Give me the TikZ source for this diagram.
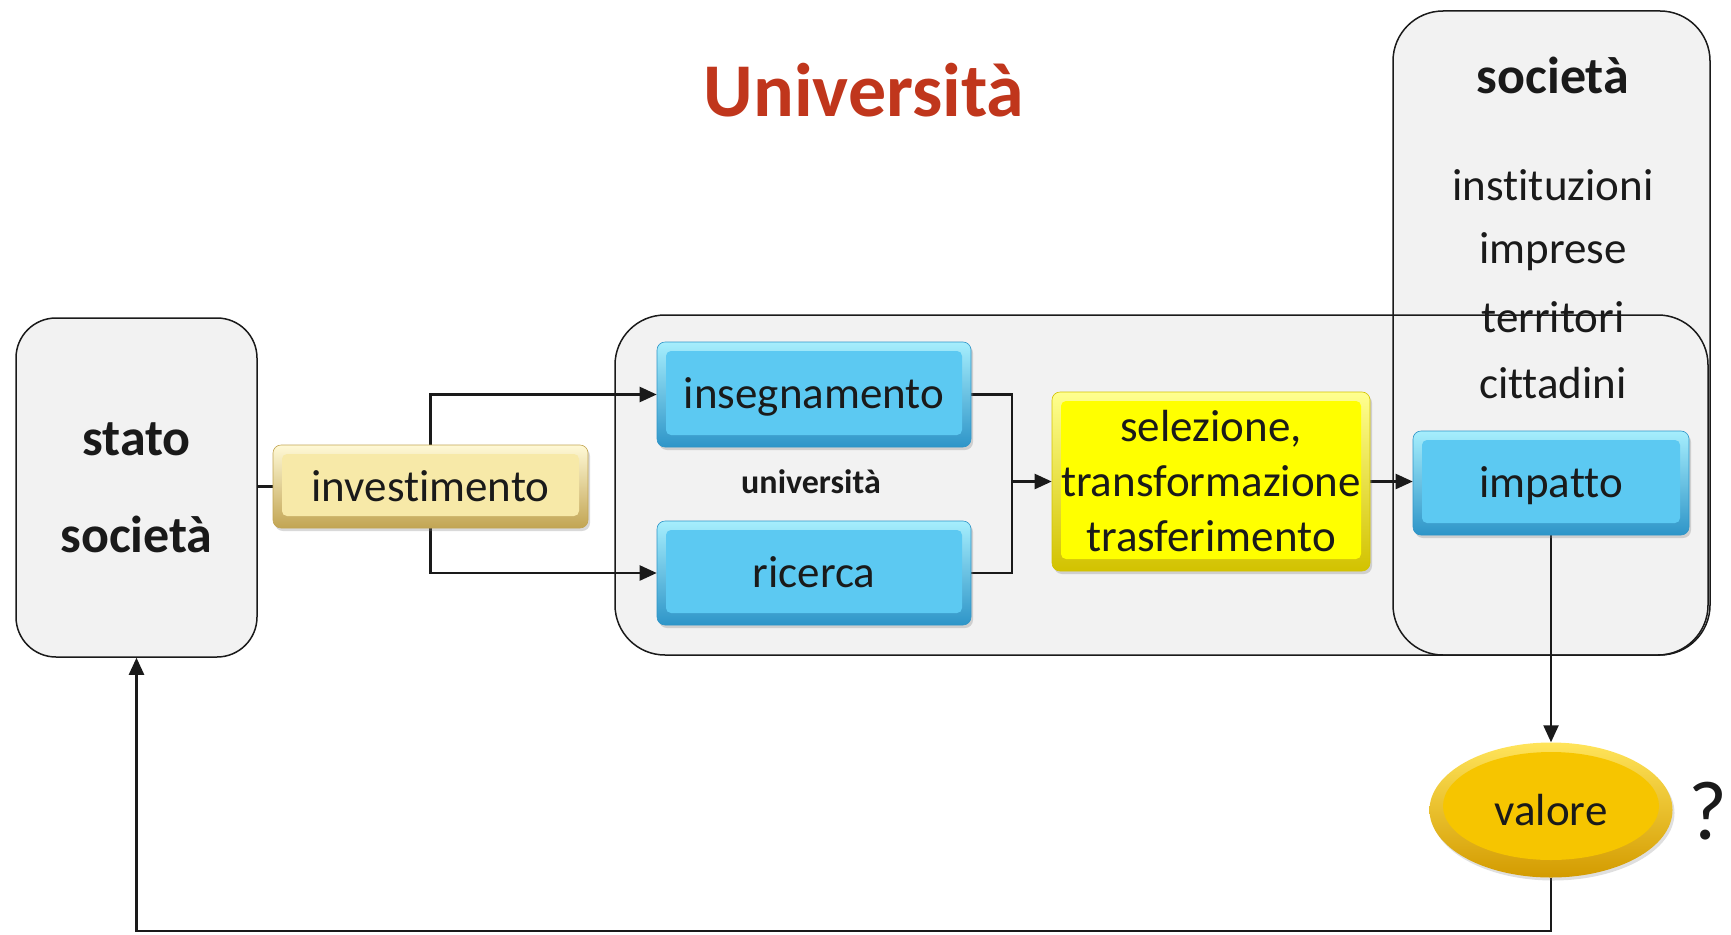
\documentclass[tikz,border=0pt]{standalone}
\usepackage{fontspec}
\setmainfont[Ligatures=NoCommon]{Carlito}
\usetikzlibrary{arrows.meta,shadows,shapes.geometric}
\definecolor{boxgray}{HTML}{F2F2F2}
\definecolor{titlered}{HTML}{C0361C}
\definecolor{bluetop}{HTML}{A6EEFD}
\definecolor{bluebot}{HTML}{2E95C8}
\definecolor{bluemid}{HTML}{5CC9F2}
\definecolor{creamtop}{HTML}{FFF9D6}
\definecolor{creambot}{HTML}{C2A553}
\definecolor{creammid}{HTML}{F7E9A8}
\definecolor{yeltop}{HTML}{FFFF90}
\definecolor{yelbot}{HTML}{D2C200}
\definecolor{yelmid}{HTML}{FFFF00}
\definecolor{goldtop}{HTML}{FFE45A}
\definecolor{goldbot}{HTML}{D39B00}
\definecolor{goldmid}{HTML}{F6C500}
\definecolor{ink}{HTML}{1A1A1A}
\pgfdeclarelayer{back}
\pgfdeclarelayer{conn}
\pgfsetlayers{back,conn,main}
\tikzset{
  txt/.style={font=\fontsize{45}{55}\selectfont, text=ink},
  bevelbox/.style n args={3}{rectangle, rounded corners=8pt, top color=#1, bottom color=#2,
    draw=#2, line width=0.6pt,
    drop shadow={shadow xshift=2pt, shadow yshift=-3pt, opacity=0.3},
    path picture={\fill[#3, rounded corners=5pt]
      ([shift={(9pt,12pt)}]path picture bounding box.south west) rectangle
      ([shift={(-9pt,-9pt)}]path picture bounding box.north east);},
    txt, inner sep=0pt, align=center},
  bluebox/.style={bevelbox={bluetop}{bluebot}{bluemid}, text height=38pt, text depth=10pt},
  creambox/.style={bevelbox={creamtop}{creambot}{creammid}},
  yelbox/.style={bevelbox={yeltop}{yelbot}{yelmid}},
  goldell/.style={ellipse, top color=goldtop, bottom color=goldbot,
    drop shadow={shadow xshift=2pt, shadow yshift=-3pt, opacity=0.25},
    path picture={\fill[goldmid] ([shift={(0pt,4pt)}]path picture bounding box.center) ellipse (108pt and 54pt);},
    txt, inner sep=0pt},
  bigbox/.style={rectangle, rounded corners=50pt, fill=boxgray, outer sep=0pt, inner sep=0pt},
  outline/.style={draw=ink, line width=1.5pt},
  conn/.style={line width=2.3pt, ink},
  arr/.style={conn, -{Triangle[length=17pt,width=15pt]}},
}
\begin{document}
\begin{tikzpicture}[x=1pt,y=-1pt]
\useasboundingbox (0,0) rectangle (1731,934);
% title
\node[font=\fontsize{76}{80}\selectfont\bfseries, text=titlered] (title) at (864,90) {Università};
% big containers
\begin{pgfonlayer}{back}
\node[bigbox, minimum width=1093pt, minimum height=340pt] (univ) at (1161.5,485) {};
\node[bigbox, minimum width=317pt, minimum height=644pt] (soc) at (1551.5,333) {};
\draw[outline, rounded corners=50pt] (univ.south west) rectangle (univ.north east);
\draw[outline, rounded corners=50pt] (soc.south west) rectangle (soc.north east);
\end{pgfonlayer}
% left box
\node[rectangle, rounded corners=40pt, fill=boxgray, outline, minimum width=241pt, minimum height=339pt,
  font=\fontsize{52}{97}\selectfont\bfseries, text=ink, align=center] (stato) at (136.5,487.5) {stato\\società};
% società text
\node[font=\fontsize{52}{60}\selectfont\bfseries, text=ink] (sochead) at (1553,75) {società};
\node[txt] (ist) at (1553,185) {instituzioni};
\node[txt] (imp) at (1553,252) {imprese};
\node[txt] (ter) at (1553,317) {territori};
\node[txt] (cit) at (1553,383) {cittadini};
% boxes
\node[creambox, minimum width=315pt, minimum height=83pt] (inv) at (430.5,486.5) {investimento};
\node[bluebox, minimum width=314pt, minimum height=105pt] (ins) at (814,394.5) {insegnamento};
\node[bluebox, minimum width=314pt, minimum height=104pt] (ric) at (814,573) {ricerca};
\node[font=\fontsize{34}{40}\selectfont\bfseries, text=ink] (unilab) at (811,482) {università};
\node[yelbox, minimum width=318pt, minimum height=179pt] (sel) at (1211,481.5) {selezione,\\transformazione\\trasferimento};
\node[bluebox, minimum width=276pt, minimum height=104pt] (impatto) at (1551,483) {impatto};
\node[goldell, minimum width=243pt, minimum height=135pt] (val) at (1551,810) {valore};
\node[font=\fontsize{84}{88}\selectfont, text=ink] (qm) at (1708,811) {?};
% connectors
\coordinate (mrg) at (1012,481.5);
\coordinate (bot) at (0,931);
\begin{pgfonlayer}{conn}
\draw[conn] (stato.east |- inv.west) -- (inv.west);
\draw[arr] (inv.north) |- (ins.west);
\draw[arr] (inv.south) |- (ric.west);
\draw[conn] (ins.east) -| (mrg) |- (ric.east);
\draw[arr] (mrg) -- (sel.west);
\draw[arr] (sel.east) -- (impatto.west |- sel.east);
\draw[arr] (impatto.south) -- (val.north);
\draw[arr] (val.south) |- (stato.south |- bot) -- (stato.south);
\end{pgfonlayer}
\end{tikzpicture}
\end{document}
